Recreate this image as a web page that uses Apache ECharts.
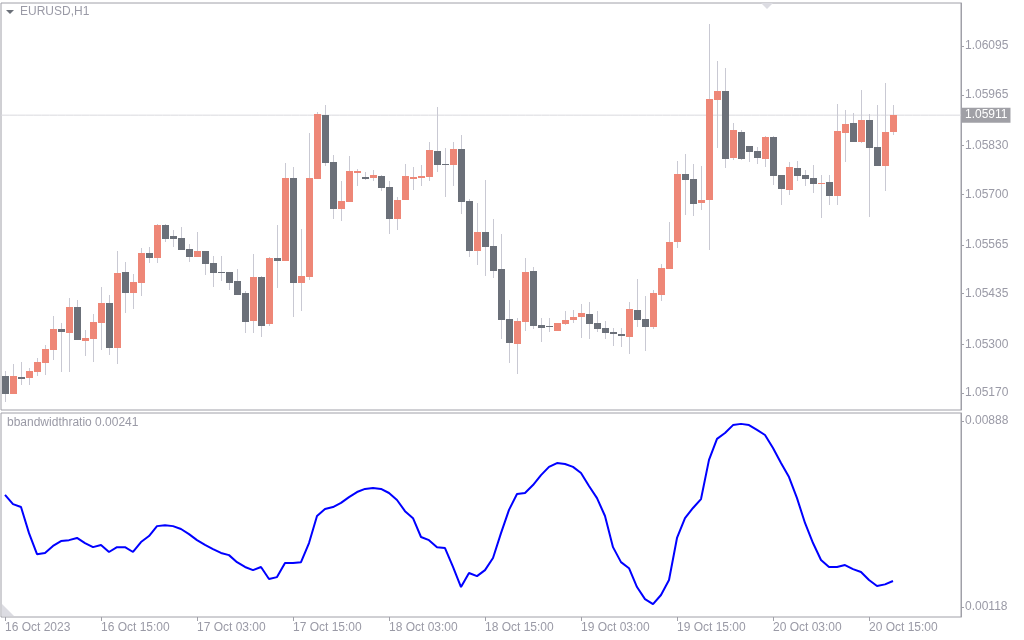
<!DOCTYPE html>
<html>
<head>
<meta charset="utf-8">
<script src="https://cdn.jsdelivr.net/npm/echarts@6/dist/echarts.min.js"></script>
<style>
html, body { margin: 0; padding: 0; background: #fff; }
#chart { width: 1024px; height: 640px; }
</style>
</head>
<body>
<div id="chart"></div>
<script>
// EURUSD H1, 16 Oct 03:00 .. 20 Oct 18:00 (112 bars)
var opens = [1.05215,1.05167,1.05213,1.05210,1.05226,1.05250,1.05285,1.05341,1.05330,1.05399,
  1.05309,1.05314,1.05357,1.05410,1.05290,1.05493,1.05437,1.05463,1.05543,1.05530,
  1.05618,1.05589,1.05583,1.05554,1.05533,1.05549,1.05517,1.05493,1.05493,1.05469,
  1.05437,1.05362,1.05479,1.05354,1.05530,1.05522,1.05743,1.05463,1.05479,1.05741,
  1.05911,1.05786,1.05661,1.05679,1.05757,1.05746,1.05743,1.05749,1.05719,1.05634,
  1.05685,1.05741,1.05743,1.05746,1.05815,1.05781,1.05778,1.05821,1.05682,1.05549,
  1.05599,1.05562,1.05501,1.05367,1.05301,1.05359,1.05495,1.05351,1.05349,1.05335,
  1.05354,1.05365,1.05373,1.05381,1.05357,1.05343,1.05333,1.05327,1.05319,1.05391,
  1.05367,1.05346,1.05431,1.05501,1.05573,1.05754,1.05741,1.05677,1.05685,1.05951,
  1.05975,1.05797,1.05866,1.05829,1.05815,1.05794,1.05853,1.05751,1.05711,1.05770,
  1.05751,1.05743,1.05727,1.05733,1.05695,1.05863,1.05890,1.05839,1.05898,1.05826,
  1.05775,1.05866];
var highs = [1.05229,1.05247,1.05253,1.05237,1.05263,1.05298,1.05375,1.05357,1.05423,1.05418,
  1.05338,1.05381,1.05453,1.05431,1.05549,1.05519,1.05487,1.05557,1.05559,1.05621,
  1.05621,1.05605,1.05613,1.05567,1.05599,1.05549,1.05535,1.05535,1.05493,1.05501,
  1.05442,1.05541,1.05482,1.05533,1.05618,1.05783,1.05773,1.05607,1.05863,1.05919,
  1.05938,1.05805,1.05735,1.05802,1.05767,1.05759,1.05765,1.05751,1.05735,1.05693,
  1.05781,1.05773,1.05778,1.05839,1.05933,1.05823,1.05839,1.05858,1.05687,1.05677,
  1.05738,1.05634,1.05594,1.05418,1.05370,1.05530,1.05506,1.05370,1.05370,1.05357,
  1.05389,1.05391,1.05407,1.05413,1.05389,1.05362,1.05343,1.05343,1.05413,1.05474,
  1.05429,1.05445,1.05514,1.05626,1.05789,1.05807,1.05781,1.05775,1.06154,1.06055,
  1.06037,1.05890,1.05871,1.05829,1.05826,1.05855,1.05855,1.05751,1.05786,1.05789,
  1.05765,1.05778,1.05751,1.05751,1.05941,1.05925,1.05917,1.05978,1.05914,1.05938,
  1.05997,1.05938];
var lows = [1.05146,1.05167,1.05191,1.05191,1.05215,1.05218,1.05258,1.05226,1.05226,1.05311,
  1.05269,1.05253,1.05285,1.05271,1.05247,1.05383,1.05394,1.05429,1.05517,1.05517,
  1.05573,1.05559,1.05551,1.05519,1.05533,1.05485,1.05453,1.05469,1.05445,1.05431,
  1.05330,1.05330,1.05319,1.05349,1.05450,1.05522,1.05373,1.05389,1.05471,1.05741,
  1.05775,1.05634,1.05629,1.05679,1.05722,1.05738,1.05735,1.05709,1.05594,1.05605,
  1.05685,1.05711,1.05722,1.05735,1.05759,1.05693,1.05722,1.05647,1.05533,1.05511,
  1.05482,1.05477,1.05314,1.05250,1.05221,1.05335,1.05341,1.05306,1.05333,1.05335,
  1.05351,1.05357,1.05317,1.05314,1.05333,1.05314,1.05295,1.05293,1.05274,1.05346,
  1.05282,1.05341,1.05415,1.05501,1.05557,1.05645,1.05642,1.05658,1.05551,1.05823,
  1.05770,1.05791,1.05791,1.05786,1.05781,1.05773,1.05725,1.05671,1.05698,1.05735,
  1.05722,1.05703,1.05637,1.05671,1.05671,1.05786,1.05839,1.05837,1.05639,1.05775,
  1.05709,1.05858];
var closes = [1.05167,1.05215,1.05207,1.05229,1.05253,1.05287,1.05341,1.05333,1.05399,1.05311,
  1.05317,1.05359,1.05410,1.05290,1.05490,1.05437,1.05466,1.05543,1.05530,1.05618,
  1.05581,1.05581,1.05551,1.05533,1.05549,1.05514,1.05490,1.05490,1.05463,1.05431,
  1.05359,1.05479,1.05349,1.05530,1.05522,1.05743,1.05463,1.05482,1.05743,1.05914,
  1.05783,1.05661,1.05682,1.05762,1.05762,1.05741,1.05751,1.05717,1.05634,1.05685,
  1.05749,1.05746,1.05749,1.05818,1.05778,1.05778,1.05821,1.05679,1.05549,1.05599,
  1.05559,1.05495,1.05365,1.05303,1.05362,1.05493,1.05349,1.05343,1.05346,1.05357,
  1.05365,1.05373,1.05383,1.05354,1.05341,1.05330,1.05327,1.05322,1.05394,1.05365,
  1.05346,1.05437,1.05503,1.05573,1.05754,1.05738,1.05674,1.05685,1.05954,1.05975,
  1.05794,1.05871,1.05794,1.05813,1.05797,1.05853,1.05749,1.05714,1.05773,1.05749,
  1.05741,1.05727,1.05730,1.05695,1.05869,1.05887,1.05839,1.05898,1.05823,1.05775,
  1.05866,1.05911];
var bbRatio = [0.00582,0.00544,0.00532,0.00424,0.00337,0.00342,0.00371,0.00391,0.00395,0.00404,
  0.00383,0.00366,0.00375,0.00346,0.00366,0.00366,0.00346,0.00387,0.00412,0.00453,
  0.00457,0.00453,0.00441,0.00420,0.00395,0.00375,0.00358,0.00342,0.00333,0.00304,
  0.00284,0.00271,0.00284,0.00234,0.00242,0.00300,0.00300,0.00304,0.00383,0.00495,
  0.00524,0.00532,0.00549,0.00573,0.00594,0.00607,0.00611,0.00607,0.00590,0.00561,
  0.00515,0.00486,0.00408,0.00395,0.00366,0.00362,0.00284,0.00201,0.00259,0.00246,
  0.00271,0.00321,0.00424,0.00520,0.00586,0.00590,0.00623,0.00664,0.00698,0.00714,
  0.00710,0.00698,0.00673,0.00619,0.00569,0.00495,0.00366,0.00304,0.00279,0.00201,
  0.00151,0.00130,0.00168,0.00230,0.00404,0.00486,0.00528,0.00565,0.00727,0.00814,
  0.00838,0.00871,0.00876,0.00871,0.00851,0.00830,0.00776,0.00714,0.00656,0.00569,
  0.00466,0.00383,0.00313,0.00284,0.00284,0.00292,0.00275,0.00263,0.00230,0.00205,
  0.00212,0.00226];
var timeTicks = ['16 Oct 2023','16 Oct 15:00','17 Oct 03:00','17 Oct 15:00','18 Oct 03:00',
  '18 Oct 15:00','19 Oct 03:00','19 Oct 15:00','20 Oct 03:00','20 Oct 15:00'];
var priceTicks = [1.06095,1.05965,1.05830,1.05700,1.05565,1.05435,1.05300,1.05170];
var bbTicks = [0.00888,0.00118];
var lastPrice = 1.05911;
var lastBB = 0.00241;

var slots = 120; // bar slots across the window, 112 used
var cats = [];
var priceLine = [];
for (var i = 0; i < slots; i++) { cats.push(i); priceLine.push(lastPrice); }

var candleData = [];
for (var i = 0; i < opens.length; i++) {
  candleData.push([i, opens[i], closes[i], lows[i], highs[i]]);
}

var txt = '#9a9aa6';
var frame = '#a0a0a8';
var font = 'Liberation Sans';
var priceMin = 1.05125, priceMax = 1.06210;

function renderCandle(params, api) {
  var idx = api.value(0);
  var o = api.coord([idx, api.value(1)]);
  var c = api.coord([idx, api.value(2)]);
  var l = api.coord([idx, api.value(3)]);
  var h = api.coord([idx, api.value(4)]);
  var x = Math.round(o[0]);
  var top = Math.round(Math.min(o[1], c[1]));
  var bot = Math.round(Math.max(o[1], c[1]));
  var up = api.value(2) >= api.value(1);
  return {
    type: 'group',
    children: [
      { type: 'line', shape: { x1: x + 0.5, y1: Math.round(h[1]), x2: x + 0.5, y2: Math.round(l[1]) },
        style: { stroke: '#c9c9d3', lineWidth: 1 } },
      { type: 'rect', shape: { x: x - 3, y: top, width: 7, height: Math.max(1, bot - top) },
        style: { fill: up ? '#ee8777' : '#6b7079' } }
    ]
  };
}

var myChart = echarts.init(document.getElementById('chart'));
var option = {
  animation: false,
  backgroundColor: '#fff',
  textStyle: { fontFamily: font },
  grid: [
    { left: 1, top: 3, width: 960, height: 407, show: true, borderColor: frame, borderWidth: 1 },
    { left: 1, top: 413, width: 960, height: 204, show: true, borderColor: frame, borderWidth: 1 }
  ],
  xAxis: [
    { type: 'category', gridIndex: 0, data: cats, boundaryGap: false,
      axisLine: { show: false }, axisTick: { show: false }, axisLabel: { show: false }, splitLine: { show: false } },
    { type: 'category', gridIndex: 1, data: cats, boundaryGap: true,
      axisLine: { show: false },
      axisTick: { show: true, alignWithLabel: true, length: 4, lineStyle: { color: frame },
        interval: function (i) { return i % 12 === 0 && i < opens.length; } },
      axisLabel: { color: txt, fontSize: 12, fontFamily: font, align: 'left', margin: 5,
        interval: function (i) { return i % 12 === 0 && i < opens.length; },
        formatter: function (v) { return timeTicks[v / 12] || ''; } },
      splitLine: { show: false } },
    { type: 'category', gridIndex: 0, data: cats, boundaryGap: true, show: false }
  ],
  yAxis: [
    { type: 'value', gridIndex: 0, position: 'right', min: priceMin, max: priceMax,
      axisLine: { show: true, lineStyle: { color: frame } },
      axisTick: { show: true, length: 3, customValues: priceTicks, lineStyle: { color: frame } },
      axisLabel: { color: txt, fontSize: 12, fontFamily: font, margin: 4, customValues: priceTicks,
        formatter: function (v) { return v.toFixed(5); } },
      splitLine: { show: false } },
    { type: 'value', gridIndex: 1, position: 'right', min: 0.00077, max: 0.00921,
      axisLine: { show: true, lineStyle: { color: frame } },
      axisTick: { show: true, length: 3, customValues: bbTicks, lineStyle: { color: frame } },
      axisLabel: { color: txt, fontSize: 12, fontFamily: font, margin: 4, customValues: bbTicks,
        formatter: function (v) { return v.toFixed(5); } },
      splitLine: { show: false } },
    { type: 'value', gridIndex: 0, position: 'right', min: priceMin, max: priceMax,
      axisLine: { show: false }, axisTick: { show: false }, splitLine: { show: false },
      axisLabel: { color: '#fff', backgroundColor: '#a0a0a6', padding: [2, 3, 1, 3],
        fontSize: 12, fontFamily: font, margin: 1, customValues: [lastPrice],
        formatter: function (v) { return v.toFixed(5); } } }
  ],
  series: [
    { type: 'line', xAxisIndex: 0, yAxisIndex: 0, data: priceLine, symbol: 'none', silent: true, z: 1,
      lineStyle: { color: '#d9d9de', width: 1 } },
    { type: 'custom', xAxisIndex: 2, yAxisIndex: 0, renderItem: renderCandle,
      encode: { x: 0, y: [1, 2, 3, 4] }, data: candleData, z: 3 },
    { type: 'line', xAxisIndex: 1, yAxisIndex: 1, data: bbRatio, symbol: 'none',
      lineStyle: { color: '#0000ff', width: 2 }, itemStyle: { color: '#0000ff' } }
  ],
  graphic: [
    { type: 'polygon', shape: { points: [[6, 10], [14, 10], [10, 14]] }, style: { fill: '#6b7079' } },
    { type: 'text', left: 20, top: 6, style: { text: 'EURUSD,H1', fill: txt, font: '12px "Liberation Sans"' } },
    { type: 'polygon', shape: { points: [[761, 3], [773, 3], [767, 9]] }, style: { fill: '#dcdce2' } },
    { type: 'text', left: 7, top: 417,
      style: { text: 'bbandwidthratio ' + lastBB.toFixed(5), fill: txt, font: '12px "Liberation Sans"' } },
    { type: 'polygon', shape: { points: [[2, 604], [2, 616], [14, 616]] }, style: { fill: '#dcdce2' } }
  ]
};
myChart.setOption(option);
</script>
</body>
</html>
